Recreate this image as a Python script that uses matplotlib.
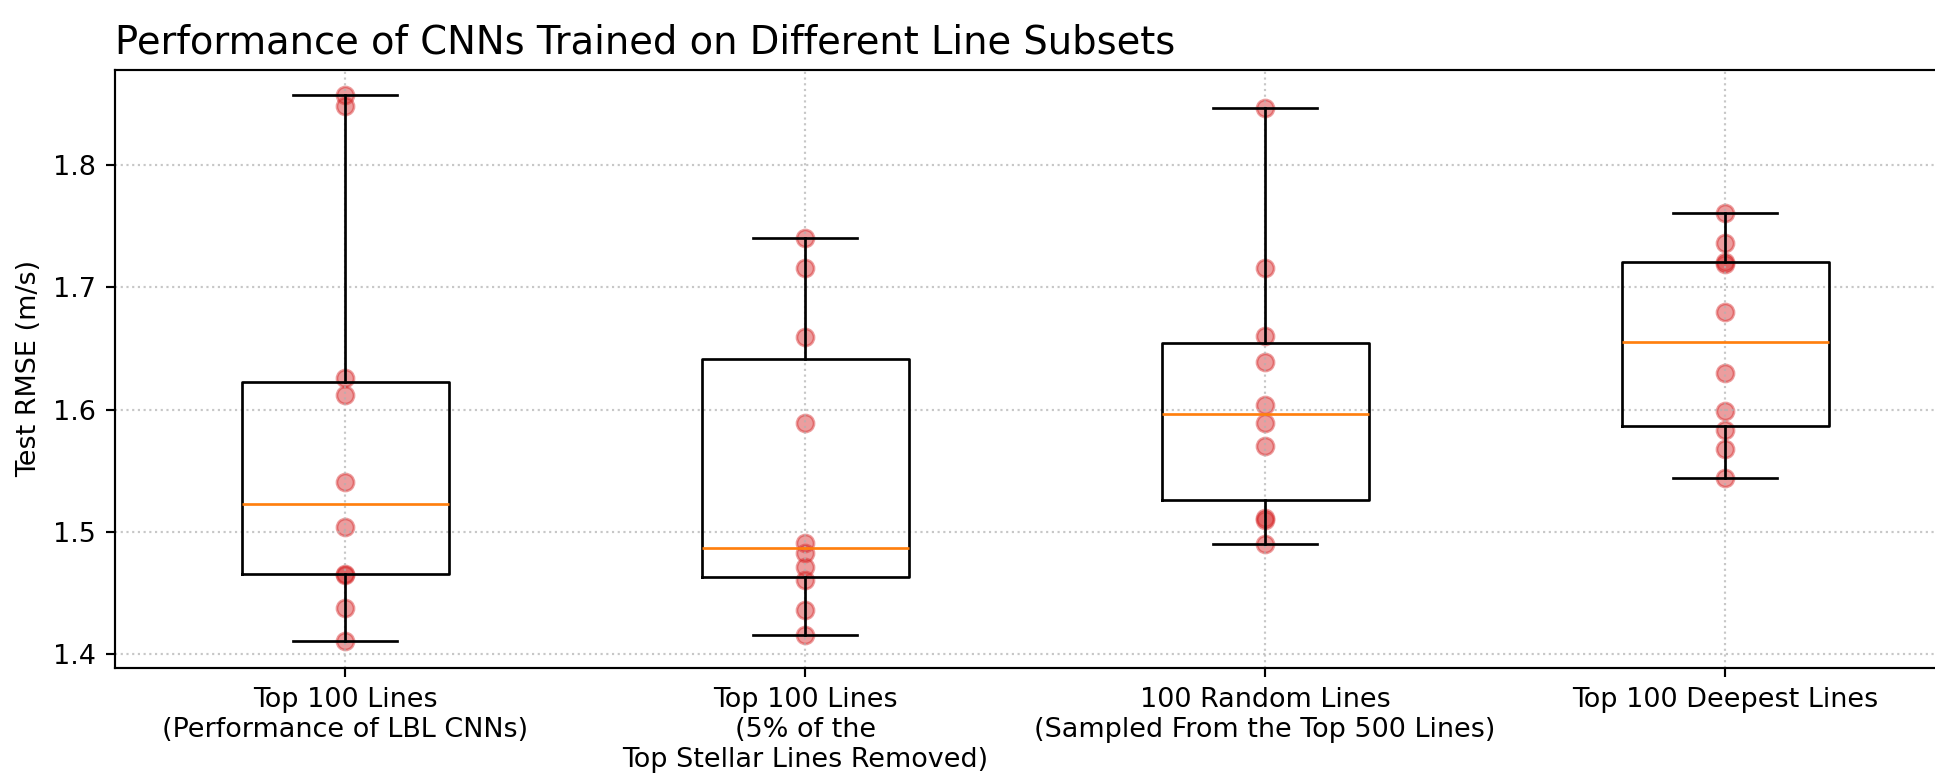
import numpy as np
import matplotlib.pyplot as plt

# test RMSE (m/s) of the ten CNNs trained on each line subset
labels = ['Top 100 Lines\n(Performance of LBL CNNs)',
          'Top 100 Lines\n(5% of the\nTop Stellar Lines Removed)',
          '100 Random Lines\n(Sampled From the Top 500 Lines)',
          'Top 100 Deepest Lines']
top100 = [1.857, 1.848, 1.626, 1.612, 1.541, 1.504, 1.466, 1.465, 1.438, 1.411]
top100_removed = [1.740, 1.716, 1.659, 1.589, 1.491, 1.483, 1.471, 1.461, 1.436, 1.416]
random100 = [1.847, 1.716, 1.660, 1.639, 1.604, 1.589, 1.570, 1.511, 1.510, 1.490]
deepest100 = [1.761, 1.736, 1.721, 1.719, 1.680, 1.630, 1.599, 1.583, 1.568, 1.544]

data = [top100, top100_removed, random100, deepest100]

fig = plt.figure(figsize=(1935 / 194, 776 / 194), dpi=194)
# the axes run past the right edge, like the cropped original
ax = fig.add_axes([0.0595, 0.1396, 0.9509, 0.7706])

ax.boxplot(data)
for i, vals in enumerate(data):
    ax.scatter(np.full(len(vals), i + 1), vals, s=40, color='tab:red', alpha=0.45)

ax.set_xticks(range(1, 5), labels)
ax.set_xlim(0.5, 4.5)
ax.set_ylim(1.389, 1.878)
ax.set_ylabel('Test RMSE (m/s)')
ax.set_title('Performance of CNNs Trained on Different Line Subsets', loc='left', fontsize=14.3)
ax.grid(True, linestyle=':', alpha=0.7)

plt.savefig('out.png', dpi=194)
